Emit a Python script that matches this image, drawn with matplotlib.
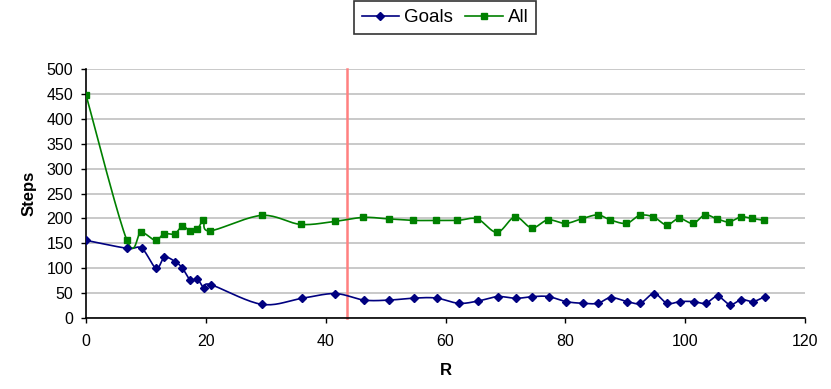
import numpy as np
import matplotlib
matplotlib.use("Agg")
import matplotlib.pyplot as plt
from matplotlib.lines import Line2D

plt.rcParams['font.family'] = ['Liberation Sans', 'DejaVu Sans']

goals_x = [0, 6.8, 9.3, 11.7, 13.1, 14.9, 16.1, 17.4, 18.6, 19.7, 20.8, 29.3,
           36.0, 41.6, 46.4, 50.6, 54.8, 58.5, 62.2, 65.4, 68.7, 71.8, 74.5, 77.2,
           80.1, 82.9, 85.4, 87.6, 90.3, 92.5, 94.8, 97.0, 99.2, 101.4, 103.4,
           105.4, 107.5, 109.4, 111.3, 113.3]
goals_y = [156, 140, 140, 100, 122, 113, 100, 76, 78, 60, 67, 27.5,
           39.5, 49, 36, 36, 40, 40, 29.5, 34, 43, 39.5, 43, 43,
           33, 29.5, 29.5, 41, 33, 29.5, 49, 29.5, 33, 33, 29.5,
           43.5, 27, 37, 33, 43]

all_x = [0, 6.8, 9.2, 11.6, 13.0, 14.8, 16.1, 17.3, 18.6, 19.6, 20.7, 29.3,
         35.8, 41.5, 46.3, 50.5, 54.6, 58.4, 62.0, 65.3, 68.6, 71.6, 74.4, 77.1,
         80.0, 82.7, 85.4, 87.5, 90.2, 92.4, 94.7, 96.9, 99.0, 101.3, 103.3,
         105.3, 107.3, 109.3, 111.1, 113.2]
all_y = [448, 157, 172, 156, 169, 169, 185, 175, 179, 196, 175, 206,
         188, 194, 202, 199, 196, 196, 196, 199, 172, 203, 181, 197,
         190, 199, 207, 197, 190, 206, 203, 187, 200, 190, 207,
         199, 193, 203, 200, 196]

marker_line_x = 43.6


def smooth(xs, ys, n=20):
    xs = np.asarray(xs, float)
    ys = np.asarray(ys, float)
    P = np.column_stack([xs, ys])
    out = [P[0]]
    for i in range(len(P) - 1):
        p0 = P[i - 1] if i > 0 else P[i]
        p1 = P[i]
        p2 = P[i + 1]
        p3 = P[i + 2] if i + 2 < len(P) else P[i + 1]
        c1 = p1 + (p2 - p0) / 6.0
        c2 = p2 - (p3 - p1) / 6.0
        t = np.linspace(0, 1, n)[1:, None]
        seg = ((1 - t) ** 3) * p1 + 3 * ((1 - t) ** 2) * t * c1 + 3 * (1 - t) * t ** 2 * c2 + t ** 3 * p2
        out.extend(seg)
    out = np.array(out)
    return out[:, 0], out[:, 1]


fig = plt.figure(figsize=(8.31, 3.89), dpi=100)
ax = fig.add_axes([86 / 831, 1 - 318 / 389, (805 - 86) / 831, (318 - 69) / 389])

ax.set_xlim(0, 120)
ax.set_ylim(0, 500)
ax.set_xticks(np.arange(0, 121, 20))
ax.set_yticks(np.arange(0, 501, 50))
ax.yaxis.grid(True, color='#c0c0c0', linewidth=1.2)
ax.set_axisbelow(True)
for s in ['top', 'right']:
    ax.spines[s].set_visible(False)
for s in ['left', 'bottom']:
    ax.spines[s].set_color('black')
    ax.spines[s].set_linewidth(1.2)
ax.tick_params(axis='both', direction='out', length=3.8, width=1, labelsize=11.5, colors='black')
ax.tick_params(axis='x', pad=7.5)
ax.tick_params(axis='y', pad=5.5)

ax.axvline(marker_line_x, color='#ff8080', linewidth=1.8, zorder=2, clip_on=False)

gx, gy = smooth(goals_x, goals_y)
ax.plot(gx, gy, color='#000080', linewidth=1.2, zorder=3)
ax.plot(goals_x, goals_y, linestyle='none', marker='D', markersize=4.5, color='#000080', zorder=4)

axx, axy = smooth(all_x, all_y)
ax.plot(axx, axy, color='#008000', linewidth=1.2, zorder=3)
ax.plot(all_x, all_y, linestyle='none', marker='s', markersize=4.5, color='#008000', zorder=4)

h1 = Line2D([], [], color='#000080', marker='D', markersize=4, linewidth=1.2)
h2 = Line2D([], [], color='#008000', marker='s', markersize=4, linewidth=1.2)
leg = fig.legend([h1, h2], ['Goals', 'All'], loc='center', bbox_to_anchor=(445 / 831, 1 - 17.5 / 389),
                 ncol=2, frameon=True, fancybox=False, edgecolor='black', fontsize=13.5,
                 handlelength=2.0, handletextpad=0.27, columnspacing=0.64, borderpad=0.4)
leg.get_frame().set_linewidth(1.2)

ax.set_xlabel('R', fontweight='bold', fontsize=12, labelpad=10)
ax.set_ylabel('Steps', fontweight='bold', fontsize=12, labelpad=7)

fig.savefig('out.png', dpi=100)
